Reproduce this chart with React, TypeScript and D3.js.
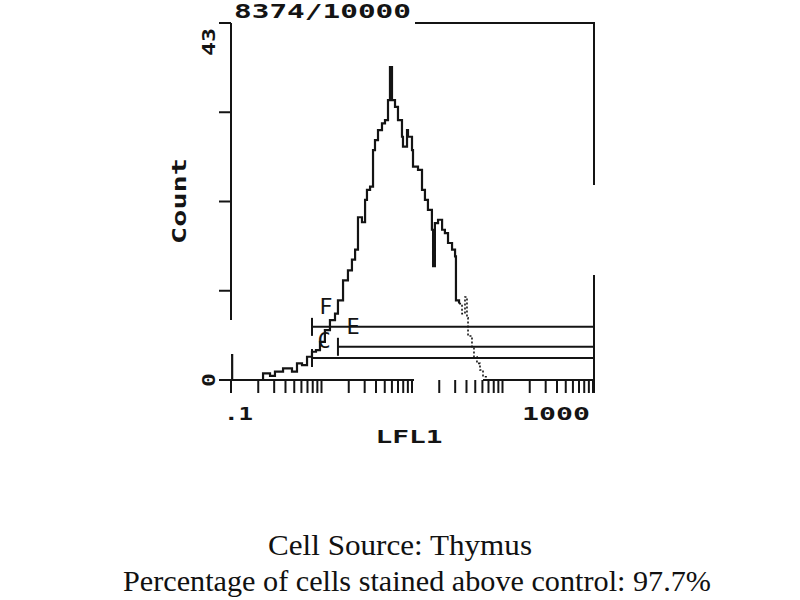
import React from "react";
import * as d3 from "d3";

// ---- data ----
const lfl1 = [0.1, 0.103, 0.226, 0.27, 0.306, 0.376, 0.472, 0.536, 0.609, 0.692, 0.785, 0.869, 0.962, 1.09, 1.24, 1.41, 1.52, 1.73, 1.96, 2.17, 2.35, 2.53, 2.8, 3.03, 3.18, 3.44, 3.71, 3.9, 4.21, 4.66, 5.03, 5.43, 5.71, 6.01, 6.49, 7.0, 7.75, 7.95, 8.81, 9.03, 10.0, 10.26, 11.65, 12.9, 13.9, 15.0, 16.6, 17.1, 17.9, 19.4, 21.5, 23.1, 25.0, 27.7, 29.9, 30.6, 33.1, 35.7, 38.5, 40.5, 41.6, 46.0, 48.4, 52.2, 56.4, 60.9, 65.8];
const counts = [3.0, 0, 0.8, 0.5, 1.0, 1.4, 1.0, 2.0, 1.8, 2.8, 3.4, 3.6, 4.6, 6.0, 7.2, 8.0, 9.6, 12.0, 13.2, 14.5, 15.7, 19.6, 19.0, 21.7, 22.9, 23.3, 27.7, 28.9, 30.1, 30.9, 31.3, 33.7, 37.7, 33.7, 32.9, 31.3, 29.3, 28.1, 30.1, 29.3, 27.7, 25.7, 25.3, 22.9, 21.7, 20.5, 18.1, 13.7, 18.9, 19.3, 18.1, 17.7, 16.5, 15.7, 14.9, 9.6, 9.2, 8.0, 10.0, 7.5, 5.3, 4.0, 2.8, 2.0, 1.2, 0.4, 0];
const tailStart = 56; // index where the sparse (dotted) tail begins

const gateNames = ["E", "C", "A"];
const gateLo = [0.785, 1.52, 0.785];
const gateHi = [1000, 1000, 1000];
const gateLevel = [6.4, 4.0, 2.65];

const labelNames = ["F", "E", "C"];
const labelX = [1.12, 2.23, 1.066];
const labelY = [8.9, 6.4, 4.7];

const baseLo = [0.1, 60.9];
const baseHi = [10.26, 1000];

const yTickValues = [0, 10.75, 21.5, 32.25, 43];
const yTickLabels = ["0", "", "", "", "43"];
const xDecades = [0.1, 1, 10, 100];
const xTickLabels = [".1", "1000"];

const title = "8374/10000";
const xTitle = "LFL1";
const yTitle = "Count";
const caption1 = "Cell Source: Thymus";
const caption2 = "Percentage of cells stained above control: 97.7%";

// ---- layout ----
const W = 800, H = 600;
const PX0 = 231, PX1 = 593, PY0 = 380, PY1 = 23;
const INK = "#141414";
const MONO = "'DejaVu Sans Mono', 'Liberation Mono', monospace";
const SERIF = "'Liberation Serif', 'Times New Roman', serif";

export default function App() {
  const x = d3.scaleLog().domain([0.1, 1000]).range([PX0, PX1]);
  const y = d3.scaleLinear().domain([0, 43]).range([PY0, PY1]);

  const pts = lfl1.map((v, i) => [v, counts[i]] as [number, number]);
  const line = d3
    .line<[number, number]>()
    .x((d) => x(d[0]))
    .y((d) => y(d[1]))
    .curve(d3.curveStepAfter);
  const mainPath = line(pts.slice(0, tailStart + 1)) || "";
  const tailPath = line(pts.slice(tailStart)) || "";

  const xTicks: number[] = [];
  xDecades.forEach((d) => {
    for (let m = 1; m <= 9; m++) xTicks.push(d * m);
  });
  xTicks.push(1000);

  return (
    <svg
      width={W}
      height={H}
      viewBox={`0 0 ${W} ${H}`}
      style={{ position: "absolute", left: 0, top: 0, background: "#fff" }}
    >
      <rect x={0} y={0} width={W} height={H} fill="#fff" />

      {/* frame */}
      <line x1={PX0} y1={PY1} x2={PX0} y2={320} stroke={INK} strokeWidth={2} />
      <line x1={415} y1={PY1} x2={PX1 + 2} y2={PY1} stroke={INK} strokeWidth={2} />
      <line x1={PX1 + 1} y1={PY1} x2={PX1 + 1} y2={185} stroke={INK} strokeWidth={2} />
      <line x1={PX1 + 1} y1={275} x2={PX1 + 1} y2={393} stroke={INK} strokeWidth={2} />

      {/* baseline segments */}
      {baseLo.map((lo, i) => (
        <line key={"b" + i} x1={x(lo)} y1={y(0)} x2={x(baseHi[i]) + 1} y2={y(0)} stroke={INK} strokeWidth={2} />
      ))}

      {/* y ticks */}
      {yTickValues.map((t, i) => (
        <g key={"yt" + i}>
          <line x1={PX0 - 12} y1={y(t)} x2={PX0} y2={y(t)} stroke={INK} strokeWidth={2} />
          {yTickLabels[i] && (
            <text
              transform={`translate(${PX0 - 21},${y(t) + (i === 0 ? 0 : 19)}) rotate(-90)`}
              textAnchor="middle"
              dominantBaseline="middle"
              fontFamily={MONO}
              fontWeight="bold"
              fontSize={17}
              fill={INK}
              textLength={yTickLabels[i].length * 14}
              lengthAdjust="spacingAndGlyphs"
            >
              {yTickLabels[i]}
            </text>
          )}
        </g>
      ))}

      {/* x ticks */}
      {xTicks.map((t, i) => (
        <line key={"xt" + i} x1={x(t)} y1={y(0)} x2={x(t)} y2={y(0) + 13} stroke={INK} strokeWidth={2} />
      ))}
      <text x={x(0.1) - 7} y={420} fontFamily={MONO} fontWeight="bold" fontSize={18} fill={INK}
        textLength={29} lengthAdjust="spacingAndGlyphs">{xTickLabels[0]}</text>
      <text x={x(1000) - 3} y={420} textAnchor="end" fontFamily={MONO} fontWeight="bold" fontSize={18} fill={INK}
        textLength={68} lengthAdjust="spacingAndGlyphs">{xTickLabels[1]}</text>

      {/* gates */}
      {gateNames.map((g, i) => (
        <g key={"g" + i}>
          <line x1={x(gateLo[i])} y1={y(gateLevel[i])} x2={x(gateHi[i]) + 2} y2={y(gateLevel[i])} stroke={INK} strokeWidth={2} />
          <line x1={x(gateLo[i])} y1={y(gateLevel[i]) - 9} x2={x(gateLo[i])} y2={y(gateLevel[i]) + 9} stroke={INK} strokeWidth={2} />
        </g>
      ))}
      {labelNames.map((l, i) => (
        <text key={"l" + i} x={x(labelX[i])} y={y(labelY[i])} textAnchor="middle" dominantBaseline="central"
          fontFamily={MONO} fontSize={22} fill={INK}>
          {l}
        </text>
      ))}

      {/* histogram */}
      <path d={mainPath} fill="none" stroke={INK} strokeWidth={2.2} />
      <path d={tailPath} fill="none" stroke={INK} strokeWidth={1.6} strokeDasharray="2,2" />

      {/* titles */}
      <text x={234} y={18} fontFamily={MONO} fontWeight="bold" fontSize={20} fill={INK}
        textLength={177} lengthAdjust="spacingAndGlyphs">{title}</text>
      <text x={409} y={443} textAnchor="middle" fontFamily={MONO} fontWeight="bold" fontSize={18} fill={INK}
        textLength={67} lengthAdjust="spacingAndGlyphs">{xTitle}</text>
      <text transform="translate(186,201) rotate(-90)" textAnchor="middle" fontFamily={MONO} fontWeight="bold"
        fontSize={20} fill={INK} textLength={86} lengthAdjust="spacingAndGlyphs">{yTitle}</text>

      {/* caption */}
      <text x={400} y={555} textAnchor="middle" fontFamily={SERIF} fontSize={30} fill="#111"
        textLength={264} lengthAdjust="spacingAndGlyphs">
        {caption1}
      </text>
      <text x={417} y={591} textAnchor="middle" fontFamily={SERIF} fontSize={30} fill="#111"
        textLength={588} lengthAdjust="spacingAndGlyphs">
        {caption2}
      </text>
    </svg>
  );
}
